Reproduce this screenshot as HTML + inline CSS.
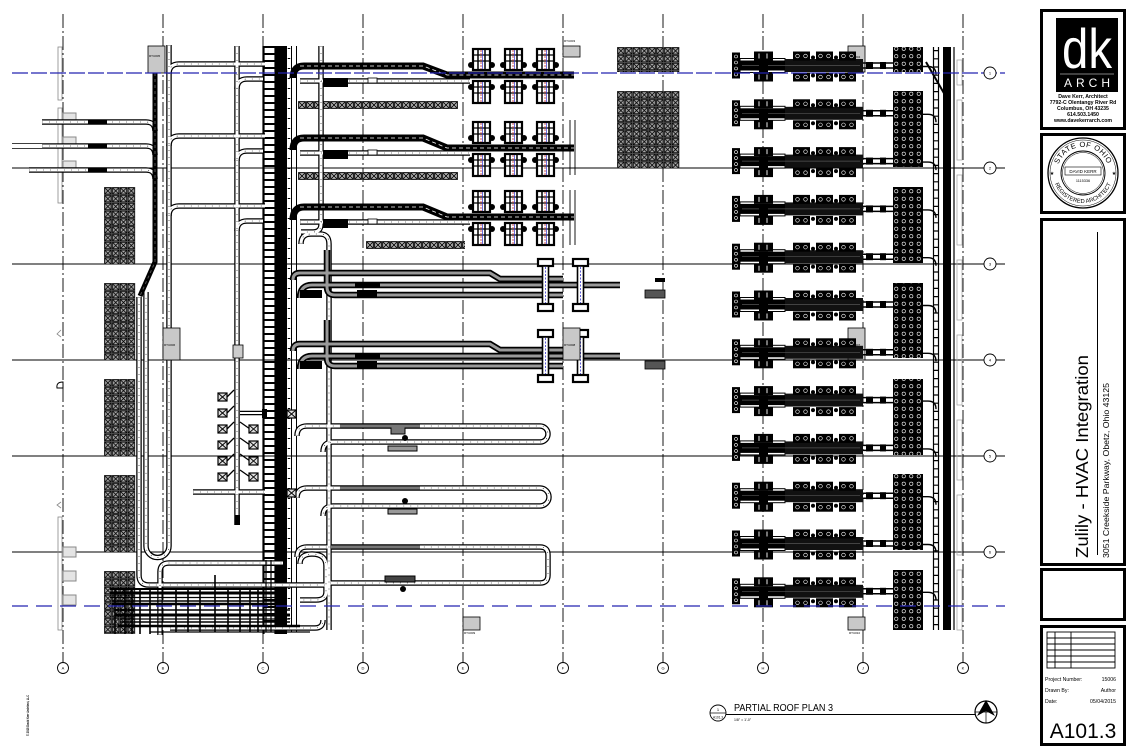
<!DOCTYPE html>
<html><head><meta charset="utf-8">
<style>
html,body{margin:0;padding:0;background:#fff;}
svg{display:block;}
text{font-family:"Liberation Sans",sans-serif;}
</style></head><body>
<svg width="1130" height="754" viewBox="0 0 1130 754" xmlns="http://www.w3.org/2000/svg">
<defs>
<pattern id="gx" width="7.8" height="7.8" patternUnits="userSpaceOnUse">
 <rect width="7.8" height="7.8" fill="#555"/>
 <rect x="0.8" y="0.8" width="6.2" height="6.2" fill="#aaa" stroke="#000" stroke-width="0.7"/>
 <path d="M0.8 0.8L7 7M7 0.8L0.8 7" stroke="#000" stroke-width="0.8"/>
</pattern>
<pattern id="gs" width="8" height="8" patternUnits="userSpaceOnUse">
 <rect width="8" height="8" fill="#555"/>
 <rect x="0.8" y="0.8" width="6.4" height="6.4" fill="#bbb" stroke="#000" stroke-width="0.7"/>
 <path d="M0.8 0.8L7.2 7.2M7.2 0.8L0.8 7.2" stroke="#000" stroke-width="0.8"/>
</pattern>
<pattern id="bx" width="7.5" height="7.5" patternUnits="userSpaceOnUse">
 <rect width="7.5" height="7.5" fill="#000"/>
 <circle cx="3.75" cy="3.75" r="1.7" fill="none" stroke="#fff" stroke-width="0.6"/>
</pattern>
<g id="row">
 <rect x="740" y="-7" width="45" height="14" fill="#fff" stroke="#000" stroke-width="1"/>
 <rect x="740" y="-5" width="123" height="10" fill="#000"/>
 <rect x="785" y="-6.5" width="78" height="13" fill="#111"/>
 <line x1="742" y1="0" x2="860" y2="0" stroke="#555" stroke-width="0.7"/>
 <path d="M863 -2.5H895M863 2.5H895" stroke="#000" stroke-width="1.5"/>
 <rect x="866" y="-3.5" width="7" height="7" fill="#000"/>
 <rect x="880" y="-3.5" width="6" height="7" fill="#000"/>
 <rect x="732" y="-13" width="8" height="26" fill="#000"/>
 <g fill="none" stroke="#fff" stroke-width="0.6"><circle cx="736" cy="-9" r="1.5"/><circle cx="736" cy="-3" r="1.5"/><circle cx="736" cy="3" r="1.5"/><circle cx="736" cy="9" r="1.5"/></g>
 <rect x="754" y="-14" width="19" height="9" fill="#000"/>
 <rect x="754" y="7" width="19" height="9" fill="#000"/>
 <rect x="759" y="-5" width="9" height="12" fill="#000"/>
 <path d="M759 -12v5M767 -12v5M759 9v5M767 9v5" stroke="#fff" stroke-width="0.9"/>
 <g fill="#000">
  <rect x="793" y="-14" width="17" height="9"/><rect x="816" y="-14" width="17" height="9"/><rect x="839" y="-14" width="17" height="9"/>
  <rect x="793" y="7" width="17" height="9"/><rect x="816" y="7" width="17" height="9"/><rect x="839" y="7" width="17" height="9"/>
  <circle cx="813" cy="-8" r="2"/><circle cx="836" cy="-8" r="2"/><circle cx="813" cy="10" r="2"/><circle cx="836" cy="10" r="2"/>
 </g>
 <g fill="none" stroke="#fff" stroke-width="0.6">
  <circle cx="797.5" cy="-9.5" r="1.8"/><circle cx="805.5" cy="-9.5" r="1.8"/><circle cx="820.5" cy="-9.5" r="1.8"/><circle cx="828.5" cy="-9.5" r="1.8"/><circle cx="843.5" cy="-9.5" r="1.8"/><circle cx="851.5" cy="-9.5" r="1.8"/>
  <circle cx="797.5" cy="11.5" r="1.8"/><circle cx="805.5" cy="11.5" r="1.8"/><circle cx="820.5" cy="11.5" r="1.8"/><circle cx="828.5" cy="11.5" r="1.8"/><circle cx="843.5" cy="11.5" r="1.8"/><circle cx="851.5" cy="11.5" r="1.8"/>
 </g>
 <path d="M923 1H928Q936 1 936 9" fill="none" stroke="#000" stroke-width="1.4"/>
</g>
<g id="cu">
 <rect x="0" y="-26" width="17" height="21" fill="#fff" stroke="#000" stroke-width="2.2"/>
 <rect x="0" y="6" width="17" height="22" fill="#fff" stroke="#000" stroke-width="2.2"/>
 <path d="M0 -20H17M0 -14H17M0 12H17M0 18H17" stroke="#000" stroke-width="1.2"/>
 <path d="M5 -26V-5M12 -26V-5M5 6V28M12 6V28" stroke="#000" stroke-width="1.5"/>
 <path d="M8 -25V-6M8 7V27" stroke="#c33" stroke-width="0.8" stroke-dasharray="2,1"/>
 <path d="M9.6 -25V-6M9.6 7V27" stroke="#33c" stroke-width="0.7"/>
 <g fill="#000"><circle cx="-2" cy="-10" r="3"/><circle cx="19" cy="-10" r="3"/><circle cx="-2" cy="12" r="3"/><circle cx="19" cy="12" r="3"/></g>
</g>
<g id="iu">
 <rect x="0" y="0" width="15" height="7" fill="#fff" stroke="#000" stroke-width="2.2"/>
 <rect x="4.5" y="7" width="6" height="38" fill="#fff" stroke="#000" stroke-width="1.6"/>
 <rect x="0" y="45" width="15" height="7" fill="#fff" stroke="#000" stroke-width="2.2"/>
 <path d="M7.5 8V44" stroke="#33c" stroke-width="0.8" stroke-dasharray="2,1.5"/>
</g>
<g id="xb">
 <rect x="0" y="0" width="9" height="8" fill="#ddd" stroke="#000" stroke-width="1.2"/>
 <path d="M0 0L9 8M9 0L0 8" stroke="#000" stroke-width="0.9"/>
</g>
<g id="dpipes">
 <path d="M42 122H146Q155 122 155 131"/>
 <path d="M42 146H146Q155 146 155 155"/>
 <path d="M29 170H146Q155 170 155 179"/>
 <path d="M169 45V546A11.5 11.5 0 0 1 146 546V292"/>
 <path d="M169 74Q169 64 179 64H265"/>
 <path d="M169 146Q169 136 179 136H265"/>
 <path d="M169 216Q169 206 179 206H265"/>
 <path d="M237 46V525"/>
 <path d="M237 89Q237 79 247 79H263"/>
 <path d="M237 161Q237 151 247 151H263"/>
 <path d="M237 231Q237 221 247 221H263"/>
 <path d="M300 81H470"/>
 <path d="M300 153H470"/>
 <path d="M300 222H470"/>
 <path d="M321 46V224Q321 232 313 232H301"/>
 <path d="M301 244Q301 234 311 234H320Q329 234 329 244V630"/>
 <path d="M139 297V575Q139 585 149 585H330"/>
 <path d="M297 436Q297 426 307 426H540A8 8 0 0 1 540 442H333Q323 442 323 452"/>
 <path d="M297 498Q297 488 307 488H540A9 9 0 0 1 540 506H333Q323 506 323 516"/>
 <path d="M297 557Q297 547 307 547H540Q548 547 548 555V575Q548 583 540 583H330"/>
 <path d="M160 635V572Q160 563 169 563H283"/>
 <path d="M193 492H265"/>
 <path d="M170 628H315Q323 628 323 620"/>
 <path d="M300 564Q300 554 312 554Q326 554 326 566V592Q326 600 316 600H300"/>
</g>
<g id="gpipes">
 <path d="M293 280Q293 273 300 273H490L500 279H563"/>
 <path d="M300 298Q300 285 312 285H620"/>
 <path d="M327 250V287Q327 295 335 295H563"/>
 <path d="M293 351Q293 344 300 344H490L500 350H563"/>
 <path d="M300 369Q300 356 312 356H620"/>
 <path d="M327 320V358Q327 366 335 366H563"/>
</g>
</defs>

<rect width="1130" height="754" fill="#fff"/>

<!-- grid horizontal black lines -->
<g stroke="#000" stroke-width="1">
 <line x1="12" y1="168" x2="1005" y2="168"/>
 <line x1="12" y1="264" x2="1005" y2="264"/>
 <line x1="12" y1="360" x2="1005" y2="360"/>
 <line x1="12" y1="456" x2="1005" y2="456"/>
 <line x1="12" y1="552" x2="1005" y2="552"/>
</g>
<!-- grid vertical dash-dot -->
<g stroke="#000" stroke-width="0.9" stroke-dasharray="14,3,2,3">
 <line x1="63" y1="14" x2="63" y2="652"/><line x1="163" y1="14" x2="163" y2="652"/><line x1="263" y1="14" x2="263" y2="652"/><line x1="363" y1="14" x2="363" y2="652"/><line x1="463" y1="14" x2="463" y2="652"/><line x1="563" y1="14" x2="563" y2="652"/><line x1="663" y1="14" x2="663" y2="652"/><line x1="763" y1="14" x2="763" y2="652"/><line x1="863" y1="14" x2="863" y2="652"/><line x1="963" y1="14" x2="963" y2="652"/>
</g>
<g stroke="#000" stroke-width="0.9">
 <path d="M63 652V662M163 652V662M263 652V662M363 652V662M463 652V662M563 652V662M663 652V662M763 652V662M863 652V662M963 652V662"/>
</g>
<g fill="#fff" stroke="#000" stroke-width="0.9">
 <circle cx="63" cy="668" r="5.5"/><circle cx="163" cy="668" r="5.5"/><circle cx="263" cy="668" r="5.5"/><circle cx="363" cy="668" r="5.5"/><circle cx="463" cy="668" r="5.5"/><circle cx="563" cy="668" r="5.5"/><circle cx="663" cy="668" r="5.5"/><circle cx="763" cy="668" r="5.5"/><circle cx="863" cy="668" r="5.5"/><circle cx="963" cy="668" r="5.5"/>
</g>
<g font-size="4" text-anchor="middle" fill="#000">
 <text x="63" y="669.5">A</text><text x="163" y="669.5">B</text><text x="263" y="669.5">C</text><text x="363" y="669.5">D</text><text x="463" y="669.5">E</text><text x="563" y="669.5">F</text><text x="663" y="669.5">G</text><text x="763" y="669.5">H</text><text x="863" y="669.5">J</text><text x="963" y="669.5">K</text>
</g>

<!-- left boundary -->
<g fill="none" stroke="#888" stroke-width="0.8">
 <rect x="58" y="47" width="4" height="53"/><rect x="58" y="108" width="4" height="95"/><rect x="58" y="517" width="4" height="113"/>
 <path d="M61 330L57 334L61 337"/>
 <path d="M61 502L57 505L61 508"/>
</g>
<path d="M63 382Q56 382 57 388H63Z" fill="none" stroke="#000" stroke-width="1"/>
<g fill="#e4e4e4" stroke="#888" stroke-width="1">
 <rect x="63" y="113" width="13" height="8"/><rect x="63" y="137" width="13" height="8"/><rect x="63" y="161" width="13" height="8"/>
 <rect x="63" y="547" width="13" height="10"/><rect x="63" y="571" width="13" height="10"/><rect x="63" y="595" width="13" height="10"/>
</g>
<g stroke="#000" stroke-width="0.8"><path d="M12 143.5H42M12 148.5H42"/></g>

<!-- grey X blocks -->
<g fill="url(#gx)">
 <g transform="translate(104,187)"><rect width="31.2" height="77"/></g>
 <g transform="translate(104,283)"><rect width="31.2" height="77"/></g>
 <g transform="translate(104,379)"><rect width="31.2" height="77"/></g>
 <g transform="translate(104,475)"><rect width="31.2" height="77"/></g>
 <g transform="translate(104,571)"><rect width="31.2" height="63"/></g>
 <g transform="translate(617,47)"><rect width="62.4" height="25"/></g>
 <g transform="translate(617,91)"><rect width="62.4" height="77"/></g>
</g>
<g fill="url(#gs)">
 <g transform="translate(298,101)"><rect width="160" height="8"/></g>
 <g transform="translate(298,172)"><rect width="160" height="8"/></g>
 <g transform="translate(366,241)"><rect width="99" height="8"/></g>
</g>

<!-- ladder & band -->
<line x1="269.5" y1="46" x2="269.5" y2="634" stroke="#000" stroke-width="13" stroke-dasharray="2,5"/>
<path d="M263.5 46V634M275.5 46V634" stroke="#000" stroke-width="2.2"/>
<rect x="276" y="46" width="11" height="588" fill="#000"/>
<path d="M291.5 46V632M296.5 46V632" stroke="#000" stroke-width="1"/>
<line x1="289" y1="48" x2="289" y2="632" stroke="#000" stroke-width="2.5" stroke-dasharray="1,9"/>

<!-- pipes double -->
<use href="#dpipes" fill="none" stroke="#000" stroke-width="5.5"/>
<use href="#dpipes" fill="none" stroke="#fff" stroke-width="3"/>
<use href="#dpipes" fill="none" stroke="#000" stroke-width="0.6" stroke-dasharray="1,6"/>
<use href="#gpipes" fill="none" stroke="#000" stroke-width="6.5"/>
<use href="#gpipes" fill="none" stroke="#999" stroke-width="3"/>

<!-- left pipe black segments -->
<g fill="#000">
 <rect x="88" y="119.5" width="19" height="5"/><rect x="88" y="143.5" width="19" height="5"/><rect x="88" y="167.5" width="19" height="5"/>
</g>
<path d="M155 73V262L140 296" fill="none" stroke="#000" stroke-width="5"/>
<path d="M155 73V262L140 296" fill="none" stroke="#555" stroke-width="1" stroke-dasharray="3,3"/>

<!-- top black pipes -->
<g fill="none" stroke="#000" stroke-width="7">
 <path d="M293 78Q293 66 304 66H423L447 75H574"/>
 <path d="M293 150Q293 138 304 138H423L447 148H574"/>
 <path d="M293 220Q293 207 304 207H423L447 217H574"/>
</g>
<g fill="none" stroke="#fff" stroke-width="0.8" stroke-dasharray="4,3">
 <path d="M300 66H423L447 75H574"/><path d="M300 138H423L447 148H574"/><path d="M300 207H423L447 217H574"/>
</g>
<g fill="#000">
 <rect x="323" y="78" width="25" height="9"/><rect x="323" y="150" width="25" height="9"/><rect x="323" y="219" width="25" height="9"/>
</g>
<g fill="#fff" stroke="#000" stroke-width="0.8">
 <rect x="368" y="78" width="9" height="5"/><rect x="368" y="150" width="9" height="5"/><rect x="368" y="219" width="9" height="5"/>
</g>
<path d="M570 120V175M575 120V175M570 190V245M575 190V245" stroke="#000" stroke-width="0.9"/>

<!-- middle-top units -->
<use href="#cu" x="473" y="75"/><use href="#cu" x="505" y="75"/><use href="#cu" x="537" y="75"/>
<use href="#cu" x="473" y="148"/><use href="#cu" x="505" y="148"/><use href="#cu" x="537" y="148"/>
<use href="#cu" x="473" y="217"/><use href="#cu" x="505" y="217"/><use href="#cu" x="537" y="217"/>

<!-- I units -->
<use href="#iu" x="538" y="259"/><use href="#iu" x="573" y="259"/>
<use href="#iu" x="538" y="330"/><use href="#iu" x="573" y="330"/>

<!-- small boxes on gray pipes -->
<g fill="#000">
 <rect x="355" y="283" width="25" height="4"/><rect x="300" y="290" width="22" height="8"/><rect x="357" y="290" width="20" height="8"/><rect x="655" y="278" width="10" height="4"/>
 <rect x="355" y="354" width="25" height="4"/><rect x="300" y="361" width="22" height="8"/><rect x="357" y="361" width="20" height="8"/>
</g>
<g fill="#555" stroke="#000" stroke-width="0.8">
 <rect x="645" y="290" width="20" height="8"/><rect x="645" y="361" width="20" height="8"/>
</g>

<!-- branch structure -->
<g stroke="#000" stroke-width="1.3" fill="none">
 <path d="M227 397L234 390M227 413L234 406M227 429L234 422M227 445L234 438M227 461L234 454M227 477L234 470"/>
 <path d="M240 422L250 429M240 438L250 445M240 454L250 461M240 470L250 477"/>
</g>
<use href="#xb" x="218" y="393"/><use href="#xb" x="218" y="409"/><use href="#xb" x="218" y="425"/><use href="#xb" x="218" y="441"/><use href="#xb" x="218" y="457"/><use href="#xb" x="218" y="473"/>
<use href="#xb" x="249" y="425"/><use href="#xb" x="249" y="441"/><use href="#xb" x="249" y="457"/><use href="#xb" x="249" y="473"/>
<use href="#xb" x="287" y="410"/><use href="#xb" x="287" y="489"/>
<path d="M240 413H265" stroke="#000" stroke-width="4.5"/><path d="M240 413H265" stroke="#fff" stroke-width="2"/>
<rect x="262" y="409" width="5" height="9" fill="#000"/>
<rect x="233" y="345" width="10" height="13" fill="#ccc" stroke="#000" stroke-width="0.8"/>
<rect x="235" y="515" width="5" height="10" fill="#000"/>

<!-- lower loops accessories -->
<g fill="#fff" stroke="#000" stroke-width="1">
 <rect x="391" y="427" width="14" height="7" fill="#777"/><rect x="388" y="446" width="29" height="5" fill="#999"/>
 <rect x="388" y="509" width="29" height="5" fill="#999"/>
 <rect x="385" y="576" width="30" height="6" fill="#444"/>
</g>
<g fill="#000"><circle cx="405" cy="438" r="3"/><circle cx="405" cy="501" r="3"/><circle cx="403" cy="589" r="3"/></g>
<path d="M340 426H420M340 488H420M330 547H420" stroke="#777" stroke-width="3"/>

<!-- bottom-left dense -->
<g stroke="#000" fill="none">
 <path d="M110 589H283" stroke-width="2"/>
 <path d="M110 593H283" stroke-width="3"/>
 <path d="M110 597.5H283" stroke-width="1.2"/>
 <path d="M112 601H283" stroke-width="1.5"/>
 <path d="M112 604H283" stroke-width="2.5"/>
 <path d="M115 610H290" stroke-width="1.5"/>
 <path d="M115 615H290" stroke-width="3"/>
 <path d="M120 619H290" stroke-width="1.2"/>
 <path d="M120 622H290" stroke-width="1.5"/>
 <path d="M118 626H300" stroke-width="2.5"/>
 <path d="M150 632H310" stroke-width="1.2"/>
 <path d="M115 588V634M125 588V634M132 588V634M140 588V634M150 588V634M176 588V632M188 588V632M200 588V632M215 575V632M228 588V632M240 588V632M250 588V632M258 588V632" stroke-width="1.6"/>
 <path d="M266 560V632M271 560V632" stroke-width="1.2"/>
</g>

<!-- RTU boxes -->
<g fill="#c8c8c8" stroke="#000" stroke-width="0.8">
 <rect x="148" y="46" width="17" height="27"/>
 <rect x="563" y="46" width="17" height="11"/>
 <rect x="848" y="46" width="17" height="26"/>
 <rect x="163" y="328" width="17" height="32"/>
 <rect x="563" y="328" width="17" height="32"/>
 <rect x="848" y="328" width="17" height="32"/>
 <rect x="463" y="617" width="17" height="13"/>
 <rect x="848" y="617" width="17" height="13"/>
</g>
<g font-size="3" fill="#000">
 <text x="149" y="57">RTU#05</text><text x="564" y="42">RTU#03</text><text x="849" y="58">RTU#04</text>
 <text x="164" y="346">RTU#06</text><text x="564" y="346">RTU#08</text><text x="849" y="346">RTU#07</text>
 <text x="464" y="634">RTU#09</text><text x="849" y="634">RTU#10</text>
</g>

<!-- right side rows -->
<use href="#row" y="65.5"/><use href="#row" y="113.3"/><use href="#row" y="161.1"/><use href="#row" y="208.9"/>
<use href="#row" y="256.7"/><use href="#row" y="304.5"/><use href="#row" y="352.3"/><use href="#row" y="400.1"/>
<use href="#row" y="447.9"/><use href="#row" y="495.7"/><use href="#row" y="543.5"/><use href="#row" y="591.3"/>

<!-- right black blocks -->
<g fill="url(#bx)">
 <rect x="893" y="47" width="30" height="25"/>
 <rect x="893" y="91" width="30" height="76"/>
 <rect x="893" y="187" width="30" height="76"/>
 <rect x="893" y="283" width="30" height="75"/>
 <rect x="893" y="379" width="30" height="76"/>
 <rect x="893" y="474" width="30" height="76"/>
 <rect x="893" y="570" width="30" height="60"/>
</g>

<!-- right duct -->
<path d="M933.5 47V630M938.5 47V630M954 47V630" stroke="#000" stroke-width="1.2"/>
<rect x="943" y="47" width="8" height="583" fill="#000"/>
<line x1="936" y1="50" x2="936" y2="630" stroke="#000" stroke-width="5" stroke-dasharray="1.2,7"/>
<path d="M926 62L945 95" stroke="#000" stroke-width="2"/>
<g fill="none" stroke="#aaa" stroke-width="0.8">
 <rect x="957" y="60" width="5" height="25"/><rect x="957" y="100" width="5" height="60"/><rect x="957" y="175" width="5" height="70"/>
 <rect x="957" y="260" width="5" height="60"/><rect x="957" y="335" width="5" height="70"/><rect x="957" y="420" width="5" height="60"/>
 <rect x="957" y="495" width="5" height="60"/><rect x="957" y="570" width="5" height="60"/>
</g>

<!-- blue dashed lines -->
<line x1="12" y1="73" x2="1005" y2="73" stroke="#2424b0" stroke-width="1.3" stroke-dasharray="16,3"/>
<line x1="12" y1="606" x2="1005" y2="606" stroke="#2424b0" stroke-width="1.3" stroke-dasharray="16,8"/>

<!-- right grid bubbles -->
<g fill="#fff" stroke="#000" stroke-width="0.9">
 <circle cx="990" cy="73" r="6"/><circle cx="990" cy="168" r="6"/><circle cx="990" cy="264" r="6"/><circle cx="990" cy="360" r="6"/><circle cx="990" cy="456" r="6"/><circle cx="990" cy="552" r="6"/>
</g>
<g font-size="4" text-anchor="middle">
 <text x="990" y="74.5">1</text><text x="990" y="169.5">2</text><text x="990" y="265.5">3</text><text x="990" y="361.5">4</text><text x="990" y="457.5">5</text><text x="990" y="553.5">6</text>
</g>

<!-- drawing title -->
<circle cx="718" cy="713" r="8" fill="#fff" stroke="#000" stroke-width="0.9"/>
<line x1="710" y1="713" x2="726" y2="713" stroke="#000" stroke-width="0.7"/>
<text x="718" y="711" font-size="4" text-anchor="middle">1</text>
<text x="718" y="718.5" font-size="3.2" text-anchor="middle">A101.3</text>
<text x="734" y="711" font-size="10" textLength="99" lengthAdjust="spacingAndGlyphs">PARTIAL ROOF PLAN 3</text>
<line x1="726" y1="714.5" x2="975" y2="714.5" stroke="#000" stroke-width="1"/>
<text x="734" y="721" font-size="3.5">1/8" = 1'-0"</text>
<circle cx="986" cy="712" r="11" fill="#fff" stroke="#000" stroke-width="1.2"/>
<path d="M986 701V723M975 712H997" stroke="#000" stroke-width="0.7"/>
<path d="M986 700L977 716L986 711L995 716Z" fill="#000"/>

<!-- copyright -->
<text transform="translate(29,736) rotate(-90)" font-size="3.5" font-weight="bold" textLength="41" lengthAdjust="spacingAndGlyphs">© 2015 David Kerr Architect, LLC</text>

<!-- title block -->
<g fill="#fff" stroke="#000" stroke-width="3">
 <rect x="1041.5" y="10.5" width="83" height="118"/>
 <rect x="1041.5" y="134.5" width="83" height="78"/>
 <rect x="1041.5" y="219.5" width="83" height="345"/>
 <rect x="1041.5" y="569.5" width="83" height="50"/>
 <rect x="1041.5" y="626.5" width="83" height="118"/>
</g>
<rect x="1056" y="18" width="62" height="74" fill="#000"/>
<text x="1087" y="68" font-size="56" fill="#fff" text-anchor="middle" textLength="50" lengthAdjust="spacingAndGlyphs">dk</text>
<line x1="1060" y1="74" x2="1114" y2="74" stroke="#fff" stroke-width="0.6"/>
<text x="1087" y="87" font-size="12" fill="#fff" text-anchor="middle" textLength="46" lengthAdjust="spacing">ARCH</text>
<g font-size="5.2" font-weight="bold" text-anchor="middle">
 <text x="1083" y="98">Dave Kerr, Architect</text>
 <text x="1083" y="104">7792-C Olentangy River Rd</text>
 <text x="1083" y="110">Columbus, OH 43235</text>
 <text x="1083" y="116">614.503.1450</text>
 <text x="1083" y="122">www.davekerrarch.com</text>
</g>
<!-- seal -->
<g fill="none" stroke="#000">
 <circle cx="1083" cy="173" r="35" stroke-width="1.3"/>
 <circle cx="1083" cy="173" r="33" stroke-width="0.5"/>
 <circle cx="1083" cy="173" r="22" stroke-width="0.9"/>
 <circle cx="1083" cy="173" r="20.5" stroke-width="0.5"/>
 <rect x="1065" y="167" width="36" height="8" stroke-width="0.6"/>
 <path id="sealTop" d="M1057 173A26 26 0 0 1 1109 173" stroke="none"/>
 <path id="sealBot" d="M1053 173A30 30 0 0 0 1113 173" stroke="none"/>
</g>
<text font-size="7.5" letter-spacing="0.5"><textPath href="#sealTop" startOffset="50%" text-anchor="middle">STATE OF OHIO</textPath></text>
<text font-size="5.8"><textPath href="#sealBot" startOffset="50%" text-anchor="middle">REGISTERED ARCHITECT</textPath></text>
<text x="1052" y="175" font-size="5" text-anchor="middle">★</text>
<text x="1114" y="175" font-size="5" text-anchor="middle">★</text>
<text x="1083" y="173" font-size="4.5" text-anchor="middle">DAVID KERR</text>
<text x="1083" y="182" font-size="3.8" text-anchor="middle">1115336</text>
<!-- project title -->
<line x1="1097.5" y1="232" x2="1097.5" y2="555" stroke="#000" stroke-width="1"/>
<text transform="translate(1088,558) rotate(-90)" font-size="17.5" textLength="203" lengthAdjust="spacingAndGlyphs">Zulily - HVAC Integration</text>
<text transform="translate(1109,558) rotate(-90)" font-size="8.5" textLength="175" lengthAdjust="spacingAndGlyphs">3051 Creekside Parkway, Obetz, Ohio 43125</text>
<!-- revision table -->
<g fill="none" stroke="#000" stroke-width="0.9">
 <rect x="1047" y="632" width="68" height="36"/>
 <path d="M1047 638H1115M1047 644H1115M1047 650H1115M1047 656H1115M1047 662H1115M1055 632V668M1071 632V668"/>
</g>
<g font-size="5.2">
 <text x="1045" y="681">Project Number:</text><text x="1116" y="681" text-anchor="end">15006</text>
 <text x="1045" y="692">Drawn By:</text><text x="1116" y="692" text-anchor="end">Author</text>
 <text x="1045" y="703">Date:</text><text x="1116" y="703" text-anchor="end">05/04/2015</text>
</g>
<text x="1083" y="738" font-size="21" text-anchor="middle">A101.3</text>
</svg>
</body></html>
